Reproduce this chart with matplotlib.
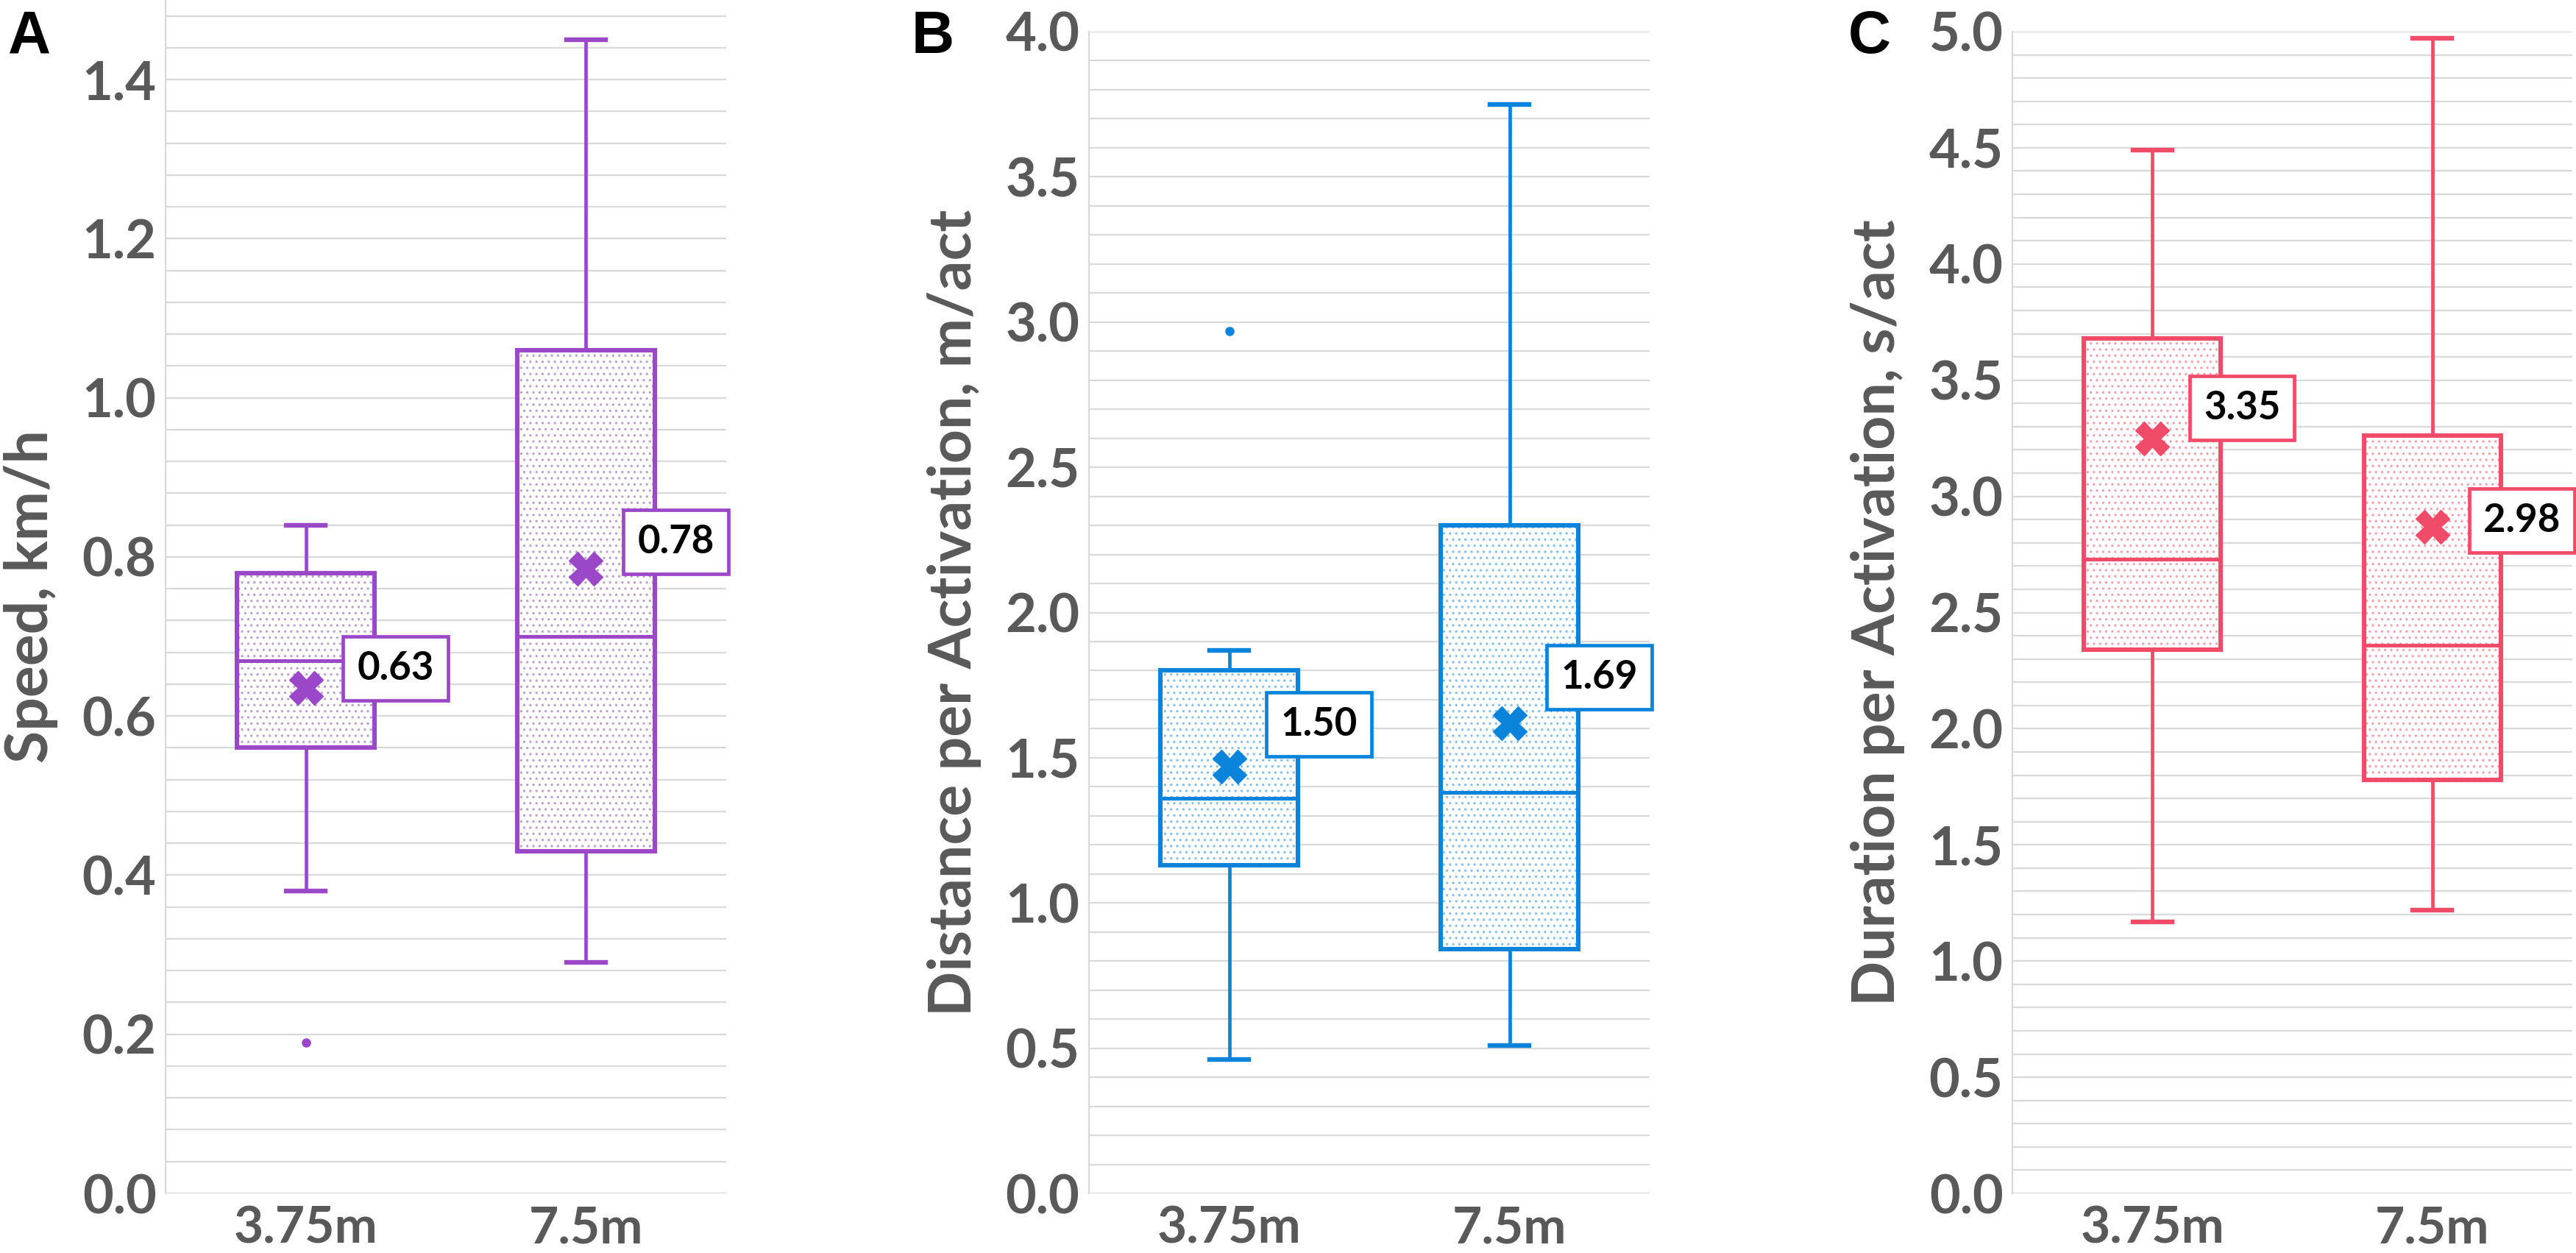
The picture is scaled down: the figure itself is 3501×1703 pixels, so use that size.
import matplotlib
matplotlib.use('Agg')
import matplotlib.pyplot as plt
from matplotlib.ticker import MultipleLocator, FormatStrFormatter

plt.rcParams['font.family'] = ['Lato', 'DejaVu Sans']
plt.rcParams['hatch.linewidth'] = 1.2

# ---------------- data ----------------
categories = ['3.75m', '7.5m']

speed_whislo = [0.38, 0.29]
speed_q1 = [0.56, 0.43]
speed_med = [0.67, 0.70]
speed_q3 = [0.78, 1.06]
speed_whishi = [0.84, 1.45]
speed_mean = [0.635, 0.785]
speed_mean_label = ['0.63', '0.78']
speed_outliers = [[0.19], []]

dist_whislo = [0.46, 0.51]
dist_q1 = [1.13, 0.84]
dist_med = [1.36, 1.38]
dist_q3 = [1.80, 2.30]
dist_whishi = [1.87, 3.75]
dist_mean = [1.47, 1.62]
dist_mean_label = ['1.50', '1.69']
dist_outliers = [[2.97], []]

dur_whislo = [1.17, 1.22]
dur_q1 = [2.34, 1.78]
dur_med = [2.73, 2.36]
dur_q3 = [3.68, 3.26]
dur_whishi = [4.49, 4.97]
dur_mean = [3.25, 2.87]
dur_mean_label = ['3.35', '2.98']
dur_outliers = [[], []]

# ---------------- layout / style ----------------
W, H = 3501, 1703
fig = plt.figure(figsize=(W / 100, H / 100), dpi=100)

TICK_GREY = '#595959'
GRID = '#d9d9d9'

panels = [
    dict(letter='A', letter_x=11, ylabel='Speed, km/h', ylabel_x=42,
         rect=(225, 0, 762, 1622), ylim=(0, 1.5), major=0.2, minor=0.04,
         color='#9b48c8', hatch='#b9a3cc', label_dy=[0.025, 0.034],
         data=(speed_whislo, speed_q1, speed_med, speed_q3, speed_whishi,
               speed_mean, speed_mean_label, speed_outliers)),
    dict(letter='B', letter_x=1239, ylabel='Distance per Activation, m/act', ylabel_x=1297,
         rect=(1480, 43, 762, 1579), ylim=(0, 4.0), major=0.5, minor=0.1,
         color='#0a84da', hatch='#86c0ea', label_dy=[0.144, 0.156],
         data=(dist_whislo, dist_q1, dist_med, dist_q3, dist_whishi,
               dist_mean, dist_mean_label, dist_outliers)),
    dict(letter='C', letter_x=2512, ylabel='Duration per Activation, s/act', ylabel_x=2552,
         rect=(2735, 43, 761, 1579), ylim=(0, 5.0), major=0.5, minor=0.1,
         color='#f04b69', hatch='#f3a0b0', label_dy=[0.129, 0.027],
         data=(dur_whislo, dur_q1, dur_med, dur_q3, dur_whishi,
               dur_mean, dur_mean_label, dur_outliers)),
]

positions = [1, 2]
box_w = 0.49
cap_w = 0.14
label_dx = 0.32

for p in panels:
    lx, ty, pw, ph = p['rect']
    ax = fig.add_axes([lx / W, 1 - (ty + ph) / H, pw / W, ph / H])
    whislo, q1, med, q3, whishi, mean, mean_lbl, outl = p['data']
    c = p['color']

    stats = []
    for i, cat in enumerate(categories):
        stats.append(dict(whislo=whislo[i], q1=q1[i], med=med[i], q3=q3[i],
                          whishi=whishi[i], mean=mean[i], fliers=outl[i], label=cat))

    # dotted fill of the boxes
    ax.bar(positions, [b - a for a, b in zip(q1, q3)], bottom=q1, width=box_w,
           color='white', edgecolor=p['hatch'], hatch='..', linewidth=0, zorder=2.5)

    ax.bxp(stats, positions=positions, widths=box_w, capwidths=cap_w,
           showmeans=True, patch_artist=True, zorder=3,
           boxprops=dict(facecolor='none', edgecolor=c, linewidth=4.4),
           whiskerprops=dict(color=c, linewidth=3.4),
           capprops=dict(color=c, linewidth=4.6),
           medianprops=dict(color=c, linewidth=3.6),
           meanprops=dict(marker='X', markerfacecolor=c, markeredgecolor=c,
                          markersize=33),
           flierprops=dict(marker='o', markerfacecolor=c, markeredgecolor=c,
                           markersize=8))

    for i, pos in enumerate(positions):
        ax.text(pos + label_dx, mean[i] + p['label_dy'][i], mean_lbl[i],
                ha='center', va='center', fontsize=38, fontweight='bold',
                color='black', zorder=6, clip_on=False,
                bbox=dict(boxstyle='square,pad=0.36', facecolor='white',
                          edgecolor=c, linewidth=3.4))

    ax.set_xlim(0.5, 2.5)
    ax.set_ylim(*p['ylim'])
    ax.yaxis.set_major_locator(MultipleLocator(p['major']))
    ax.yaxis.set_minor_locator(MultipleLocator(p['minor']))
    ax.yaxis.set_major_formatter(FormatStrFormatter('%.1f'))
    ax.grid(which='both', axis='y', color=GRID, linewidth=1.6)
    ax.set_axisbelow(True)
    for s in ['top', 'right', 'bottom']:
        ax.spines[s].set_visible(False)
    ax.spines['left'].set_color(GRID)
    ax.spines['left'].set_linewidth(1.6)
    ax.tick_params(axis='both', which='both', length=0)
    ax.tick_params(axis='y', pad=9, labelsize=52, labelcolor=TICK_GREY)
    ax.tick_params(axis='x', pad=12, labelsize=50, labelcolor=TICK_GREY)
    ax.set_xticks(positions)
    ax.set_xticklabels(categories)
    for t in ax.get_xticklabels() + ax.get_yticklabels():
        t.set_fontweight('bold')

    fig.text(p['ylabel_x'] / W, 1 - (ty + ph / 2) / H, p['ylabel'], rotation=90,
             ha='center', va='center', fontsize=58, fontweight='bold', color=TICK_GREY)
    fig.text(p['letter_x'] / W, 1 - 13 / H, p['letter'], ha='left', va='top',
             fontsize=58, fontweight='bold', color='black',
             family=['Liberation Sans', 'DejaVu Sans'])

fig.savefig('out.png', dpi=100)
